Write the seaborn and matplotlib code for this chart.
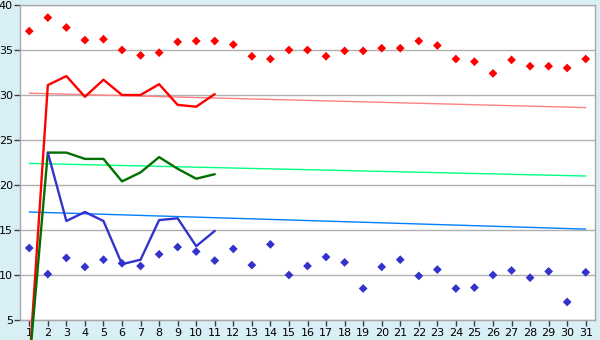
import numpy as np
import pandas as pd
import matplotlib
matplotlib.use("Agg")
import matplotlib.pyplot as plt
import seaborn as sns

days = list(range(1, 32))

red_points = [37.1, 38.6, 37.5, 36.1, 36.2, 35.0, 34.4, 34.7, 35.9, 36.0,
              36.0, 35.6, 34.3, 34.0, 35.0, 35.0, 34.3, 34.9, 34.9, 35.2,
              35.2, 36.0, 35.5, 34.0, 33.7, 32.4, 33.9, 33.2, 33.2, 33.0, 34.0]
blue_points = [13.0, 10.1, 11.9, 10.9, 11.7, 11.3, 11.0, 12.3, 13.1, 12.6,
               11.6, 12.9, 11.1, 13.4, 10.0, 11.0, 12.0, 11.4, 8.5, 10.9,
               11.7, 9.9, 10.6, 8.5, 8.6, 10.0, 10.5, 9.7, 10.4, 7.0, 10.3]

line_days = list(range(1, 12))
red_line = [0.0, 31.1, 32.1, 29.8, 31.7, 30.0, 30.0, 31.2, 28.9, 28.7, 30.1]
green_line = [0.0, 23.6, 23.6, 22.9, 22.9, 20.4, 21.4, 23.1, 21.8, 20.7, 21.2]
blue_line = [np.nan, 23.6, 16.0, 17.0, 16.0, 11.2, 11.7, 16.1, 16.3, 13.2, 14.9]

trend_days = [1, 31]
red_trend = [30.2, 28.6]
green_trend = [22.4, 21.0]
blue_trend = [17.0, 15.1]

y_ticks = [5, 10, 15, 20, 25, 30, 35, 40]

sns.set_theme(style="white")
plt.rcParams['font.family'] = ['DejaVu Sans']

bg = "#d9eff6"
fig = plt.figure(figsize=(6, 3.4), dpi=100, facecolor=bg)
ax = fig.add_axes([20/600, 20/340, 575/600, 315/340])
ax.set_facecolor("white")

# trend lines
for vals, col in [(red_trend, "#ff8080"), (green_trend, "#00ff80"), (blue_trend, "#0080ff")]:
    sns.lineplot(x=trend_days, y=vals, color=col, linewidth=1.0, ax=ax, zorder=2)

# main lines
main_lines = []
for vals, col in [(red_line, "#ff0000"), (green_line, "#007000"), (blue_line, "#3333cc")]:
    df = pd.DataFrame({"day": line_days, "v": vals})
    n_before = len(ax.lines)
    sns.lineplot(data=df, x="day", y="v", color=col, linewidth=1.7, ax=ax, zorder=3)
    main_lines.extend(ax.lines[n_before:])
for ln in main_lines:
    ln.set_clip_on(False)

# points
sns.scatterplot(x=days, y=red_points, color="#ff0000", marker="D", s=20,
                edgecolor="none", ax=ax, zorder=4)
sns.scatterplot(x=days, y=blue_points, color="#3333cc", marker="D", s=20,
                edgecolor="none", ax=ax, zorder=4)

ax.set_xlim(0.5, 31.5)
ax.set_ylim(5, 40)
ax.set_xticks(days)
ax.set_xticklabels([str(d) for d in days])
ax.set_yticks(y_ticks)
ax.set_yticklabels([str(t) for t in y_ticks])
ax.yaxis.grid(True, color="#b0b0b0", linewidth=1.0)
ax.set_axisbelow(True)
ax.set_xlabel("")
ax.set_ylabel("")

for side in ["left", "right", "top", "bottom"]:
    ax.spines[side].set_visible(True)
    ax.spines[side].set_color("#a8a8a8")
    ax.spines[side].set_linewidth(1.0)

ax.tick_params(axis="both", which="both", direction="out", length=4, width=1,
               color="#404040", labelsize=8, labelcolor="black", pad=1)
ax.tick_params(axis="x", bottom=True, pad=2)
ax.tick_params(axis="y", left=True, pad=1)

fig.savefig("out.png", dpi=100, facecolor=bg)
